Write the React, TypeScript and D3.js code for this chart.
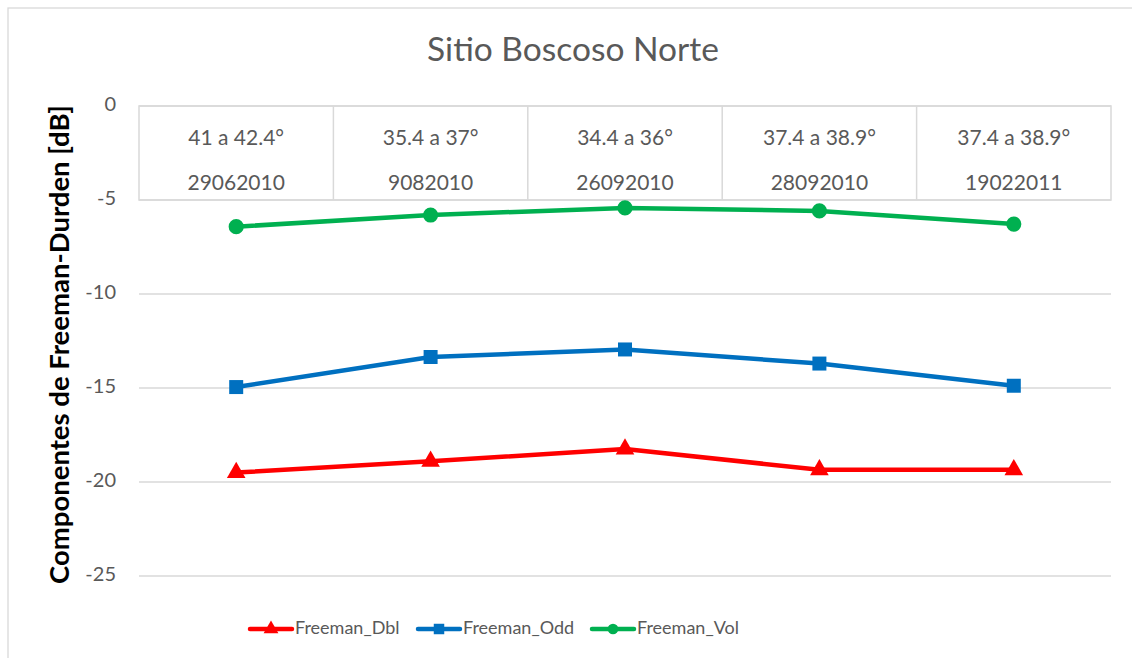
import * as d3 from "d3";

const categories = ["29062010", "9082010", "26092010", "28092010", "19022011"];
const angles = ["41 a 42.4°", "35.4 a 37°", "34.4 a 36°", "37.4 a 38.9°", "37.4 a 38.9°"];
const freemanDbl = [-19.5, -18.9, -18.25, -19.35, -19.35];
const freemanOdd = [-14.95, -13.35, -12.95, -13.7, -14.88];
const freemanVol = [-6.42, -5.8, -5.42, -5.58, -6.28];
const yTicks = [0, -5, -10, -15, -20, -25];

const series = [
  { name: "Freeman_Dbl", values: freemanDbl, color: "#FF0000", marker: "triangle" },
  { name: "Freeman_Odd", values: freemanOdd, color: "#0070C0", marker: "square" },
  { name: "Freeman_Vol", values: freemanVol, color: "#00B050", marker: "circle" },
];

const W = 1132;
const H = 658;
const font = "Lato, 'Open Sans', sans-serif";
const textColor = "#595959";
const gridColor = "#D9D9D9";

function Marker({ type, x, y, size, color }: { type: string; x: number; y: number; size: number; color: string }) {
  const symType = type === "triangle" ? d3.symbolTriangle : type === "square" ? d3.symbolSquare : d3.symbolCircle;
  const path = d3.symbol().type(symType).size(size)();
  return <path d={path || ""} transform={`translate(${x},${y})`} fill={color} />;
}

export default function App() {
  const x = d3.scaleBand().domain(categories).range([139, 1111]);
  const y = d3.scaleLinear().domain([-25, 0]).range([576, 106]);
  const cx = (c: string) => (x(c) || 0) + x.bandwidth() / 2;

  const line = d3
    .line<number>()
    .x((_, i) => cx(categories[i]))
    .y((v) => y(v));

  const legendItems = [
    { s: series[0], x0: 250 },
    { s: series[1], x0: 418 },
    { s: series[2], x0: 592 },
  ];
  const markerSize: Record<string, number> = { triangle: 150, square: 196, circle: 180 };
  const legendMarkerSize: Record<string, number> = { triangle: 95, square: 110, circle: 90 };

  return (
    <svg width={W} height={H} style={{ position: "absolute", left: 0, top: 0, background: "#fff" }}>
      <rect x={8} y={8} width={W + 20} height={H + 20} fill="#fff" stroke={gridColor} strokeWidth={1.3} />

      <text x={573} y={53} textAnchor="middle" dominantBaseline="middle" fontFamily={font} fontSize={33.5} fill={textColor}>
        Sitio Boscoso Norte
      </text>

      {/* gridlines */}
      {yTicks.map((t) => (
        <line key={t} x1={139} x2={1111} y1={y(t)} y2={y(t)} stroke={gridColor} strokeWidth={1.5} />
      ))}

      {/* y tick labels */}
      {yTicks.map((t) => (
        <text key={"l" + t} x={116} y={y(t)} textAnchor="end" dominantBaseline="middle" fontFamily={font} fontSize={20} fill={textColor}>
          {t}
        </text>
      ))}

      {/* category table */}
      <rect x={139} y={y(0)} width={972} height={y(-5) - y(0)} fill="none" stroke={gridColor} strokeWidth={1.5} />
      {categories.slice(1).map((c) => (
        <line key={"d" + c} x1={x(c)} x2={x(c)} y1={y(0)} y2={y(-5)} stroke={gridColor} strokeWidth={1.5} />
      ))}
      {categories.map((c, i) => (
        <g key={"t" + c}>
          <text x={cx(c)} y={140} textAnchor="middle" dominantBaseline="middle" fontFamily={font} fontSize={21} fill={textColor}>
            {angles[i]}
          </text>
          <text x={cx(c)} y={185} textAnchor="middle" dominantBaseline="middle" fontFamily={font} fontSize={21} fill={textColor}>
            {c}
          </text>
        </g>
      ))}

      {/* y axis title */}
      <text
        transform={`translate(62,${(106 + 583) / 2}) rotate(-90)`}
        textAnchor="middle"
        dominantBaseline="middle"
        fontFamily={font}
        fontWeight="bold"
        fontSize={27.5}
        fill="#000"
      >
        Componentes de Freeman-Durden [dB]
      </text>

      {/* series */}
      {series.map((s) => (
        <g key={s.name}>
          <path d={line(s.values) || ""} fill="none" stroke={s.color} strokeWidth={4.5} strokeLinejoin="round" strokeLinecap="round" />
          {s.values.map((v, i) => (
            <Marker key={i} type={s.marker} x={cx(categories[i])} y={y(v)} size={markerSize[s.marker]} color={s.color} />
          ))}
        </g>
      ))}

      {/* legend */}
      {legendItems.map(({ s, x0 }) => (
        <g key={"lg" + s.name}>
          <line x1={x0} x2={x0 + 42} y1={629} y2={629} stroke={s.color} strokeWidth={4.5} strokeLinecap="round" />
          <Marker type={s.marker} x={x0 + 21} y={629} size={legendMarkerSize[s.marker]} color={s.color} />
          <text x={x0 + 45} y={629} dominantBaseline="middle" fontFamily={font} fontSize={18} fill={textColor}>
            {s.name}
          </text>
        </g>
      ))}
    </svg>
  );
}
